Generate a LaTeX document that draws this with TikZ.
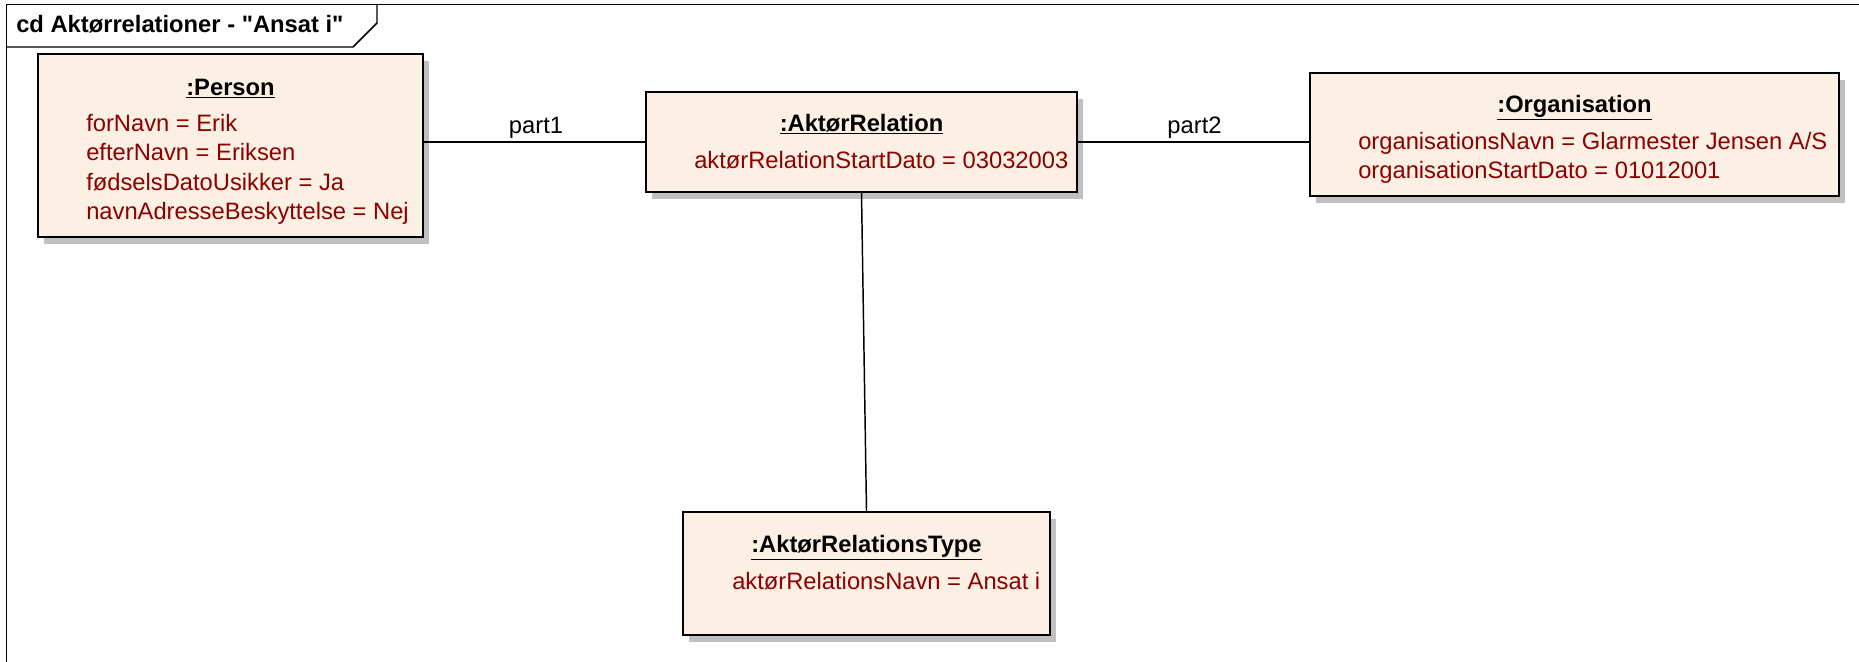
\documentclass[tikz,border=0pt]{standalone}
\usepackage{fontspec}
\setmainfont{Liberation Sans}
\usetikzlibrary{shadows}
\definecolor{objfill}{RGB}{251,240,227}
\definecolor{attrred}{RGB}{140,0,0}
\definecolor{shadowgray}{RGB}{192,192,192}
\newcommand\umlfont{\fontsize{17.8}{21}\selectfont}
\tikzset{
  obj/.style={draw,line width=1.5pt,fill=objfill,inner sep=0pt,
    drop shadow={shadow xshift=4.5pt,shadow yshift=-5pt,fill=shadowgray,opacity=1}},
  objname/.style={anchor=base,inner sep=0pt,font=\umlfont\bfseries},
  attr/.style={anchor=base west,inner sep=0pt,text=attrred},
  lnk/.style={line width=1.1pt},
  role/.style={anchor=base,inner sep=0pt}
}
\begin{document}
\begin{tikzpicture}[x=0.75pt,y=-0.75pt,font=\umlfont]
\clip (0,0) rectangle (1859,661);
\fill[white] (0,0) rectangle (1859,661);
% frame
\draw[line width=1.1pt] (6.5,700) |- (1900,4.5);
\draw[line width=1.1pt] (6.5,47) -- (353,47) -- (377,23) -- (377,4.5);
\node[anchor=base west,inner sep=0pt,font=\umlfont\bfseries] (frametitle) at (16,32) {cd Aktørrelationer - \textquotedbl Ansat i\textquotedbl};
% objects
\node[obj,minimum width=385*0.75pt,minimum height=183*0.75pt] (person) at (230.5,145.5) {};
\node[obj,minimum width=431*0.75pt,minimum height=100*0.75pt] (rel) at (861.5,142) {};
\node[obj,minimum width=529*0.75pt,minimum height=123*0.75pt] (org) at (1574.5,134.5) {};
\node[obj,minimum width=367*0.75pt,minimum height=123*0.75pt] (type) at (866.5,573.5) {};
% person
\node[objname] (personname) at (230.5,95) {\underline{:Person}};
\node[attr] (person1) at (86,131) {forNavn = Erik};
\node[attr] (person2) at (86,160.5) {efterNavn = Eriksen};
\node[attr] (person3) at (86,190) {fødselsDatoUsikker = Ja};
\node[attr] (person4) at (86,219.5) {navnAdresseBeskyttelse = Nej};
% aktoerrelation
\node[objname] (relname) at (861.5,131) {\underline{:AktørRelation}};
\node[attr] (rel1) at (694,168) {aktørRelationStartDato = 03032003};
% organisation
\node[objname] (orgname) at (1574.5,112) {\underline{:Organisation}};
\node[attr] (org1) at (1358,149) {organisationsNavn = Glarmester Jensen A/S};
\node[attr] (org2) at (1358,178) {organisationStartDato = 01012001};
% type
\node[objname] (typename) at (866.5,552) {\underline{:AktørRelationsType}};
\node[attr] (type1) at (732,589) {aktørRelationsNavn = Ansat i};
% links
\draw[lnk] (person.east |- rel.west) -- (rel.west);
\draw[lnk] (rel.east) -- (rel.east -| org.west);
\draw[lnk] (rel.south) -- (type.north);
\node[role] (part1) at (536,133) {part1};
\node[role] (part2) at (1194.5,133) {part2};
\end{tikzpicture}
\end{document}
